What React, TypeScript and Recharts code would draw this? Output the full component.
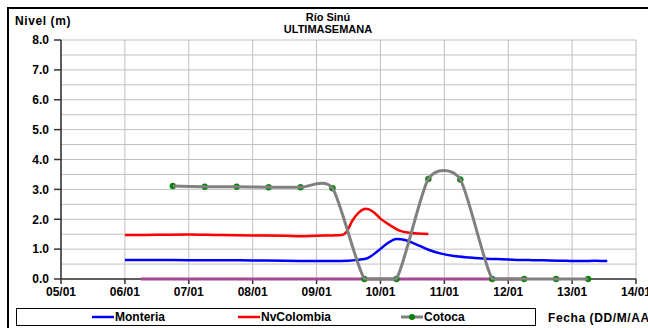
import React from "react";
import { LineChart, Line, XAxis, YAxis, CartesianGrid } from "recharts";

// days on the x axis (January), value = day of month
const days = [5, 6, 7, 8, 9, 10, 11, 12, 13, 14];
const levelTicks = [0, 1, 2, 3, 4, 5, 6, 7, 8];
const gridLevels = [0, 0.5, 1, 1.5, 2, 2.5, 3, 3.5, 4, 4.5, 5, 5.5, 6, 6.5, 7, 7.5, 8];

const monteriaTime = [6.0, 6.5, 7.0, 7.5, 8.0, 8.5, 9.0, 9.25, 9.5, 9.65, 9.8, 9.95, 10.1, 10.25, 10.4, 10.55, 10.75, 10.95, 11.15, 11.4, 11.65, 11.9, 12.15, 12.4, 12.65, 12.9, 13.15, 13.35, 13.55];
const monteriaLevel = [0.64, 0.64, 0.63, 0.63, 0.62, 0.61, 0.6, 0.6, 0.61, 0.64, 0.7, 0.92, 1.18, 1.34, 1.3, 1.17, 0.98, 0.85, 0.77, 0.72, 0.68, 0.66, 0.64, 0.63, 0.62, 0.61, 0.6, 0.61, 0.6];

const colombiaTime = [6.0, 6.5, 7.0, 7.5, 8.0, 8.5, 8.75, 9.0, 9.25, 9.4, 9.47, 9.56, 9.66, 9.77, 9.88, 10.0, 10.15, 10.3, 10.45, 10.75];
const colombiaLevel = [1.47, 1.48, 1.49, 1.47, 1.46, 1.45, 1.43, 1.45, 1.46, 1.47, 1.58, 1.95, 2.22, 2.35, 2.26, 2.02, 1.8, 1.62, 1.55, 1.51];

const cotocaTime = [6.75, 7.25, 7.75, 8.25, 8.75, 9.25, 9.75, 10.25, 10.75, 11.25, 11.75, 12.25, 12.75, 13.25];
const cotocaLevel = [3.11, 3.09, 3.09, 3.07, 3.07, 3.04, 0, 0, 3.35, 3.33, 0, 0, 0, 0];

const otherTime = [6.25, 12.25];
const otherLevel = [0, 0];

const zip = (t: number[], v: number[]) => t.map((x, i) => ({ t: x, v: v[i] }));

const monteriaData = zip(monteriaTime, monteriaLevel);
const colombiaData = zip(colombiaTime, colombiaLevel);
const cotocaData = zip(cotocaTime, cotocaLevel);
const otherData = zip(otherTime, otherLevel);

const dayLabel = (d: number) => `${String(d).padStart(2, "0")}/01`;

// Excel-like smoothed line (cardinal spline), control points kept above the lowest point
const excelCurve = (tension: number) => (context: any) => {
  let pts: number[][] = [];
  return {
    areaStart() {},
    areaEnd() {},
    lineStart() {
      pts = [];
    },
    point(x: number, y: number) {
      pts.push([+x, +y]);
    },
    lineEnd() {
      if (!pts.length) return;
      const floor = Math.max(...pts.map(p => p[1]));
      const k = (1 - tension) / 6;
      context.moveTo(pts[0][0], pts[0][1]);
      for (let i = 0; i < pts.length - 1; i++) {
        const p0 = pts[i - 1] || pts[i];
        const p1 = pts[i];
        const p2 = pts[i + 1];
        const p3 = pts[i + 2] || p2;
        context.bezierCurveTo(
          p1[0] + k * (p2[0] - p0[0]),
          Math.min(floor, p1[1] + k * (p2[1] - p0[1])),
          p2[0] - k * (p3[0] - p1[0]),
          Math.min(floor, p2[1] - k * (p3[1] - p1[1])),
          p2[0],
          p2[1]
        );
      }
    },
  };
};

const font = "'Liberation Sans', Arial, sans-serif";
const tickStyle = { fontSize: 12, fontWeight: 700, fill: "#000", fontFamily: font };

const LegendItem = ({ x, color, label, dot }: { x: number; color: string; label: string; dot?: boolean }) => (
  <div style={{ position: "absolute", left: x, top: 0, height: 16, display: "flex", alignItems: "center" }}>
    <svg width={22} height={16}>
      <line x1={0} y1={8} x2={22} y2={8} stroke={color} strokeWidth={dot ? 3 : 2.5} />
      {dot && <circle cx={11} cy={8} r={3} fill="#008000" />}
    </svg>
    <span style={{ marginLeft: 1 }}>{label}</span>
  </div>
);

export default function App() {
  return (
    <div style={{ position: "absolute", left: 0, top: 0, width: 648, height: 328, overflow: "hidden", background: "#fff", fontFamily: font }}>
      <div style={{ position: "absolute", left: 7, top: 7, width: 700, height: 400, border: "2px solid #000", boxSizing: "border-box" }} />
      <div style={{ position: "absolute", left: 15, top: 14, fontSize: 12, fontWeight: 700, lineHeight: "14px", letterSpacing: 0.6 }}>Nivel (m)</div>
      <div style={{ position: "absolute", left: 228, top: 11, width: 200, textAlign: "center", fontSize: 11, fontWeight: 700, lineHeight: "12px" }}>
        Río Sinú
      </div>
      <div style={{ position: "absolute", left: 228, top: 24, width: 200, textAlign: "center", fontSize: 11, fontWeight: 700, lineHeight: "11px" }}>
        ULTIMASEMANA
      </div>

      <div style={{ position: "absolute", left: 0, top: 0 }}>
        <LineChart width={648} height={328} margin={{ top: 40, right: 12, bottom: 29, left: 0 }}>
          <CartesianGrid stroke="#c0c0c0" strokeWidth={1} horizontalValues={gridLevels} />
          <XAxis
            dataKey="t"
            type="number"
            domain={[5, 14]}
            ticks={days}
            interval={0}
            tickFormatter={dayLabel}
            height={20}
            tickSize={5}
            tickMargin={3}
            stroke="#333"
            strokeWidth={1.5}
            tick={tickStyle}
          />
          <YAxis
            type="number"
            domain={[0, 8]}
            ticks={levelTicks}
            interval={0}
            tickFormatter={(v: number) => v.toFixed(1)}
            width={61}
            tickSize={7}
            tickMargin={5}
            stroke="#333"
            strokeWidth={1.5}
            tick={tickStyle}
          />
          <Line data={otherData} dataKey="v" type="linear" stroke="#a3498f" strokeWidth={3} dot={false} isAnimationActive={false} zIndex={600} />
          <Line data={monteriaData} dataKey="v" type="monotone" stroke="#0000ff" strokeWidth={2.5} dot={false} isAnimationActive={false} zIndex={601} />
          <Line data={colombiaData} dataKey="v" type="monotone" stroke="#ff0000" strokeWidth={2.5} dot={false} isAnimationActive={false} zIndex={602} />
          <Line
            data={cotocaData}
            dataKey="v"
            type={excelCurve(0.3) as any}
            stroke="#808080"
            strokeWidth={3}
            dot={{ r: 3, fill: "#008000", stroke: "#008000", strokeWidth: 0.5 }}
            isAnimationActive={false}
            zIndex={603}
          />
        </LineChart>
      </div>

      <div style={{ position: "absolute", left: 16, top: 308, width: 520, height: 18, border: "1px solid #000", boxSizing: "border-box", fontSize: 12, fontWeight: 700 }}>
        <LegendItem x={75} color="#0000ff" label="Monteria" />
        <LegendItem x={221} color="#ff0000" label="NvColombia" />
        <LegendItem x={384} color="#808080" label="Cotoca" dot />
      </div>
      <div style={{ position: "absolute", left: 548, top: 311, fontSize: 12, fontWeight: 700, whiteSpace: "nowrap", lineHeight: "14px", letterSpacing: 0.6 }}>
        Fecha (DD/M/AA)
      </div>
    </div>
  );
}
